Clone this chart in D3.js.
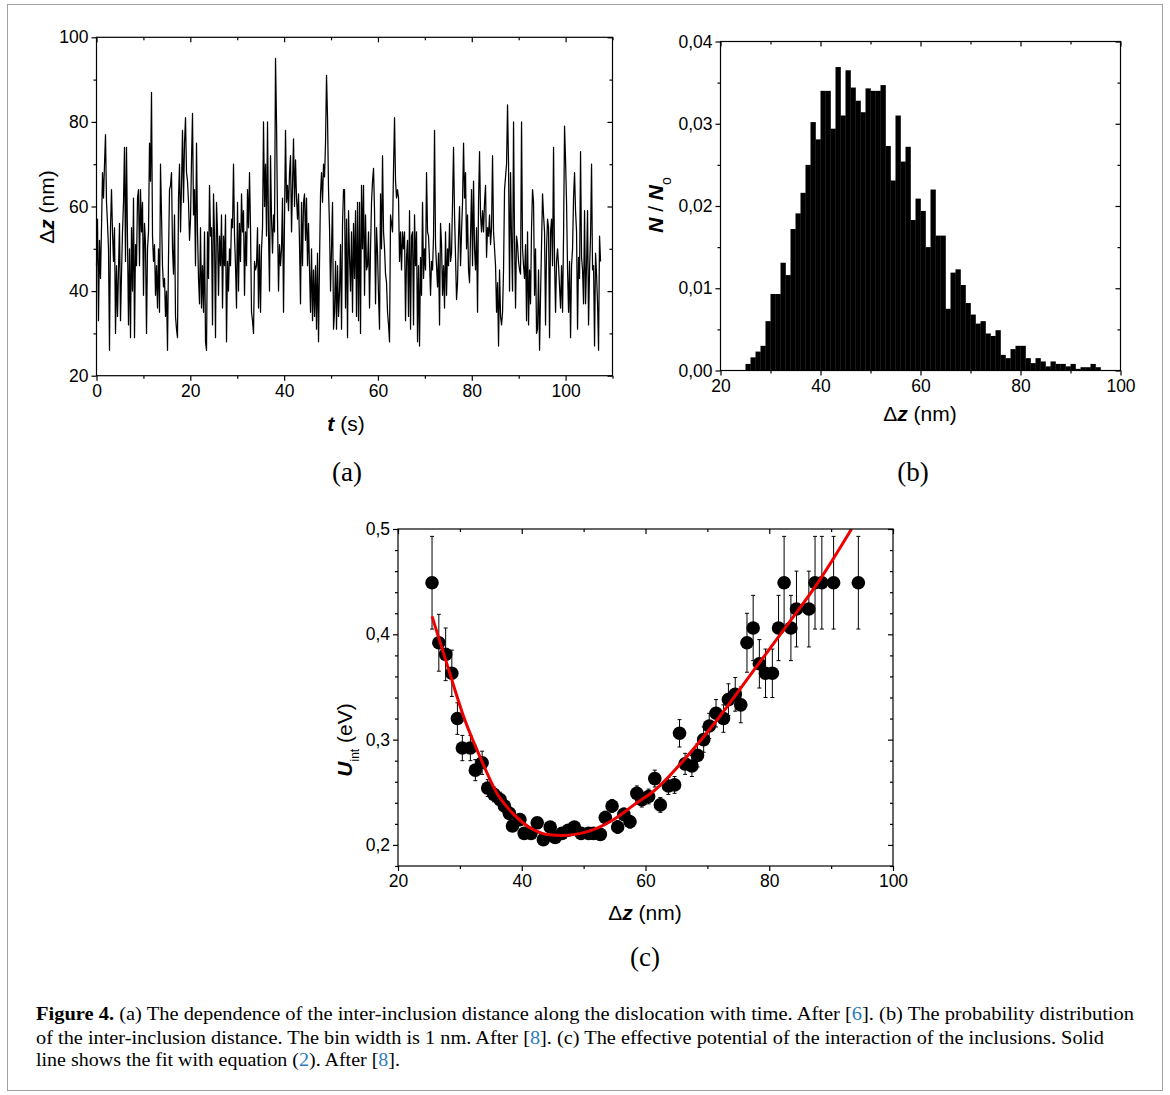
<!DOCTYPE html>
<html>
<head>
<meta charset="utf-8">
<script src="https://cdn.jsdelivr.net/npm/d3@7"></script>
<style>
body { margin: 0; background: #fff; }
svg text { font-family: "Liberation Sans", Arial, sans-serif; fill: #000; }
svg text.serif { font-family: "Liberation Serif", "Times New Roman", serif; }
</style>
</head>
<body>
<script>

// (a) inter-inclusion distance vs time, sampled every dt seconds
const dt = 0.2132;
const dzTrace = [
	46,57,33,52,43,55,68,62,70,77, 61,56,50,26,55,64,54,47,55,30,
	46,34,45,56,33,44,54,61,74,47, 74,52,32,50,29,55,40,62,29,51,
	46,62,64,46,64,54,61,39,56,51, 30,50,54,75,66,87,53,47,51,39,
	46,36,50,35,70,58,46,41,43,34, 40,26,48,64,65,68,50,44,58,34,
	31,29,62,70,54,65,78,61,75,81, 68,66,61,52,57,71,82,58,64,46,
	75,54,43,37,55,36,46,35,54,28, 26,54,43,65,53,55,32,63,53,29,
	61,54,39,53,46,58,36,53,46,58, 28,47,40,50,46,57,55,70,53,46,
	36,61,40,56,47,63,54,59,39,54, 46,64,55,68,55,35,33,30,47,45,
	46,55,36,51,35,50,55,80,60,70, 53,80,54,40,72,57,49,58,54,95,
	80,57,40,51,46,50,62,35,57,78, 61,65,59,68,72,54,65,76,60,71,
	62,57,63,51,37,61,46,61,63,52, 62,46,56,45,35,50,33,45,34,46,
	31,49,28,47,63,68,61,70,67,75, 91,81,64,55,40,50,61,31,35,47,
	31,46,34,40,
	51,31,56,64,64,36,57,29,59,48, 40,54,35,56,43,59,34,61,33,61,
	30,65,50,65,39,58,45,46,54,36, 50,61,66,69,59,37,55,49,39,31,
	63,50,72,54,50,44,42,35,32,28, 58,56,54,69,81,66,62,64,62,47,
	54,45,54,50,54,33,48,52,34,59, 31,53,54,32,58,46,54,28,46,27,
	48,39,61,43,50,45,68,54,53,47, 39,47,45,53,78,51,46,41,49,32,
	56,51,39,46,36,54,39,50,46,56, 47,49,61,74,58,48,38,42,53,60,
	46,54,61,75,62,68,50,58,45,42, 53,64,46,66,50,45,55,35,61,73,
	58,54,59,54,61,65,48,55,53,58, 51,55,72,54,50,46,35,42,27,45,
	34,32,35,45,64,67,70,84,70,40, 68,52,40,80,52,36,53,51,47,45,
	44,80,50,46,43,51,33,54,32,45, 37,55,64,61,39,50,30,31,45,26,
	39,51,63,58,54,32,50,57,55,29, 54,57,46,74,47,35,47,50,46,41,
	36,46,35,53,79,71,61,45,35,47, 29,46,50,62,68,59,54,31,48,43,
	73,48,45,37,59,37,46,59,32,45, 53,70,45,46,27,49,44,37,26,53,
	47
];

// (b) histogram, 1 nm bins starting at 25 nm
const binStart = 25;
const binWidth = 1;
const binFreq = [
	0.0008,0.0016,0.0023,0.0030,0.0060,0.0093,0.0093,0.0131,0.0116,0.0172,
	0.0191,0.0216,0.0250,0.0302,0.0281,0.0340,0.0340,0.0294,0.0369,0.0310,
	0.0365,0.0344,0.0328,0.0314,0.0343,0.0340,0.0340,0.0347,0.0273,0.0231,
	0.0310,0.0254,0.0272,0.0183,0.0209,0.0194,0.0150,0.0220,0.0164,0.0164,
	0.0075,0.0119,0.0123,0.0104,0.0082,0.0068,0.0057,0.0060,0.0045,0.0042,
	0.0049,0.0019,0.0015,0.0026,0.0030,0.0030,0.0015,0.0009,0.0015,0.0011,
	0.0005,0.0011,0.0008,0.0008,0.0005,0.0008,0.0002,0.0004,0.0004,0.0008,
	0.0004
];

// (c) effective potential with error bars
const uDz = [25.5,26.6,27.7,28.7,29.6,30.4,31.7,32.5,33.6,34.5,35.5,36.5,37.2,38.0,38.5,39.7,
	40.4,41.5,42.5,43.5,44.6,45.4,46.5,47.5,48.5,49.6,50.8,51.6,52.7,53.5,54.6,55.5,56.5,57.5,
	58.6,59.4,60.5,61.5,62.4,63.7,64.7,65.5,66.4,67.5,68.4,69.4,70.3,71.4,72.6,73.4,74.5,75.4,
	76.4,77.4,78.4,79.4,80.5,81.5,82.4,83.5,84.4,86.4,87.4,88.5,90.4,94.4];
const uVal = [0.449,0.392,0.381,0.363,0.320,0.292,0.292,0.271,0.278,0.254,0.248,0.243,0.237,0.230,0.218,0.224,
	0.211,0.211,0.221,0.205,0.217,0.207,0.211,0.214,0.217,0.211,0.211,0.211,0.210,0.226,0.237,0.217,0.229,0.222,
	0.249,0.243,0.246,0.263,0.238,0.256,0.257,0.306,0.277,0.275,0.285,0.300,0.313,0.325,0.320,0.338,0.343,0.333,
	0.392,0.406,0.372,0.363,0.363,0.406,0.449,0.406,0.424,0.424,0.449,0.449,0.449,0.449];
const uErr = [0.044,0.027,0.025,0.022,0.015,0.012,0.012,0.010,0.011,0.008,0.007,0.007,0.006,0.006,0.005,0.005,
	0.005,0.005,0.005,0.005,0.005,0.005,0.005,0.005,0.005,0.005,0.005,0.005,0.005,0.006,0.006,0.006,0.006,0.006,
	0.007,0.007,0.007,0.008,0.007,0.008,0.008,0.013,0.010,0.010,0.011,0.012,0.012,0.013,0.013,0.015,0.016,0.017,
	0.028,0.031,0.023,0.023,0.023,0.031,0.044,0.031,0.036,0.036,0.044,0.044,0.044,0.044];

// fit curve
const fitDz = [25.5,28,30.6,33.3,36,38.7,41.4,44.1,46.8,49.5,52.2,54.8,58.6,61.3,66.7,72,77.4,82.8,88.2,93.3];
const fitU  = [0.417,0.370,0.322,0.283,0.249,0.229,0.216,0.210,0.209,0.211,0.216,0.224,0.240,0.251,0.284,0.322,0.365,0.408,0.452,0.500];

const comma = (f) => (d) => d3.format(f)(d).replace(".", ",");

const svg = d3.select("body").append("svg")
	.attr("width", 1170)
	.attr("height", 1095);

svg.append("rect")
	.attr("x", 7.5).attr("y", 4.5)
	.attr("width", 1155).attr("height", 1086)
	.attr("fill", "none").attr("stroke", "#a0a0a0").attr("stroke-width", 1);

// draws the boxed frame with outward ticks left/bottom and inward mirror ticks top/right
function frame(g, x, y, w, h, t) {
	const tickStyle = (sel) => {
		sel.select(".domain").remove();
		sel.selectAll("line").attr("stroke", "#000").attr("stroke-width", 1.2);
		sel.selectAll("text").attr("font-size", 17.5);
	};
	g.append("g").attr("transform", `translate(0,${h})`)
		.call(d3.axisBottom(x).tickValues(t.xMajor).tickSize(5).tickPadding(4).tickFormat(t.fx)).call(tickStyle);
	g.append("g").attr("transform", `translate(0,${h})`)
		.call(d3.axisBottom(x).tickValues(t.xMinor).tickSize(3).tickFormat("")).call(tickStyle);
	g.append("g")
		.call(d3.axisLeft(y).tickValues(t.yMajor).tickSize(5).tickPadding(3).tickFormat(t.fy)).call(tickStyle);
	g.append("g")
		.call(d3.axisLeft(y).tickValues(t.yMinor).tickSize(3).tickFormat("")).call(tickStyle);
	g.append("g")
		.call(d3.axisBottom(x).tickValues(t.xMajor).tickSize(5).tickFormat("")).call(tickStyle);
	g.append("g")
		.call(d3.axisBottom(x).tickValues(t.xMinor).tickSize(3).tickFormat("")).call(tickStyle);
	g.append("g").attr("transform", `translate(${w},0)`)
		.call(d3.axisLeft(y).tickValues(t.yMajor).tickSize(5).tickFormat("")).call(tickStyle);
	g.append("g").attr("transform", `translate(${w},0)`)
		.call(d3.axisLeft(y).tickValues(t.yMinor).tickSize(3).tickFormat("")).call(tickStyle);
	g.append("rect")
		.attr("width", w).attr("height", h)
		.attr("fill", "none").attr("stroke", "#000").attr("stroke-width", 1.2);
}

function title(x, y, rotate, parts, size) {
	const t = svg.append("text")
		.attr("transform", `translate(${x},${y})` + (rotate ? " rotate(-90)" : ""))
		.attr("text-anchor", "middle")
		.attr("font-size", size);
	parts.forEach((p) => {
		const s = t.append("tspan").text(p.t);
		if (p.b) s.attr("font-weight", "bold").attr("font-style", "italic");
		if (p.sub) s.attr("font-size", p.sub).attr("baseline-shift", "sub");
	});
	return t;
}

// ---------- (a) ----------
{
	const box = { left: 96.5, top: 37.3, width: 516, height: 338.4 };
	const x = d3.scaleLinear().domain([0, 110]).range([0, box.width]);
	const y = d3.scaleLinear().domain([20, 100]).range([box.height, 0]);
	const g = svg.append("g").attr("transform", `translate(${box.left},${box.top})`);

	g.append("path")
		.datum(dzTrace)
		.attr("fill", "none")
		.attr("stroke", "#000")
		.attr("stroke-width", 1.25)
		.attr("stroke-linejoin", "round")
		.attr("d", d3.line().x((d, i) => x(i * dt)).y((d) => y(d)));

	frame(g, x, y, box.width, box.height, {
		xMajor: [0, 20, 40, 60, 80, 100], xMinor: [10, 30, 50, 70, 90, 110],
		yMajor: [20, 40, 60, 80, 100], yMinor: [30, 50, 70, 90],
		fx: d3.format("d"), fy: d3.format("d")
	});

	title(54, 207, true, [{ t: "Δ" }, { t: "z", b: true }, { t: " (nm)" }], 21);
	title(346, 431, false, [{ t: "t", b: true }, { t: " (s)" }], 21);
}

// ---------- (b) ----------
{
	const box = { left: 720.5, top: 41.5, width: 400, height: 329 };
	const x = d3.scaleLinear().domain([20, 100]).range([0, box.width]);
	const y = d3.scaleLinear().domain([0, 0.04]).range([box.height, 0]);
	const g = svg.append("g").attr("transform", `translate(${box.left},${box.top})`);

	g.selectAll(".bin")
		.data(binFreq).enter()
		.append("rect")
			.attr("class", "bin")
			.attr("x", (d, i) => x(binStart + i * binWidth))
			.attr("width", x(binStart + binWidth) - x(binStart) + 0.3)
			.attr("y", (d) => y(d))
			.attr("height", (d) => y(0) - y(d))
			.attr("fill", "#000");

	frame(g, x, y, box.width, box.height, {
		xMajor: [20, 40, 60, 80, 100], xMinor: [30, 50, 70, 90],
		yMajor: [0, 0.01, 0.02, 0.03, 0.04], yMinor: [0.005, 0.015, 0.025, 0.035],
		fx: d3.format("d"), fy: comma(".2f")
	});

	title(663, 205, true, [{ t: "N", b: true }, { t: " / " }, { t: "N", b: true }, { t: "o", sub: 14 }], 21);
	title(920, 421, false, [{ t: "Δ" }, { t: "z", b: true }, { t: " (nm)" }], 21);
}

// ---------- (c) ----------
{
	const box = { left: 398, top: 529, width: 495, height: 337 };
	const x = d3.scaleLinear().domain([20, 100]).range([0, box.width]);
	const y = d3.scaleLinear().domain([0.18, 0.5]).range([box.height, 0]);
	const g = svg.append("g").attr("transform", `translate(${box.left},${box.top})`);

	g.append("clipPath").attr("id", "clipC")
		.append("rect").attr("width", box.width).attr("height", box.height);

	const pts = uDz.map((d, i) => ({ dz: d, u: uVal[i], e: uErr[i] }));

	const bars = g.selectAll(".err").data(pts).enter().append("g").attr("class", "err")
		.attr("stroke", "#000").attr("stroke-width", 1);
	bars.append("line")
		.attr("x1", (d) => x(d.dz)).attr("x2", (d) => x(d.dz))
		.attr("y1", (d) => y(d.u - d.e)).attr("y2", (d) => y(d.u + d.e));
	bars.append("line")
		.attr("x1", (d) => x(d.dz) - 2).attr("x2", (d) => x(d.dz) + 2)
		.attr("y1", (d) => y(d.u + d.e)).attr("y2", (d) => y(d.u + d.e));
	bars.append("line")
		.attr("x1", (d) => x(d.dz) - 2).attr("x2", (d) => x(d.dz) + 2)
		.attr("y1", (d) => y(d.u - d.e)).attr("y2", (d) => y(d.u - d.e));

	g.selectAll(".pt").data(pts).enter().append("circle")
		.attr("class", "pt")
		.attr("cx", (d) => x(d.dz))
		.attr("cy", (d) => y(d.u))
		.attr("r", 6.8)
		.attr("fill", "#000");

	g.append("path")
		.datum(fitDz.map((d, i) => [d, fitU[i]]))
		.attr("clip-path", "url(#clipC)")
		.attr("fill", "none")
		.attr("stroke", "#ee0000")
		.attr("stroke-width", 3)
		.attr("d", d3.line().curve(d3.curveMonotoneX).x((d) => x(d[0])).y((d) => y(d[1])));

	frame(g, x, y, box.width, box.height, {
		xMajor: [20, 40, 60, 80, 100], xMinor: [30, 50, 70, 90],
		yMajor: [0.2, 0.3, 0.4, 0.5],
		yMinor: [0.18, 0.22, 0.24, 0.26, 0.28, 0.32, 0.34, 0.36, 0.38, 0.42, 0.44, 0.46, 0.48],
		fx: d3.format("d"), fy: comma(".1f")
	});

	title(352, 740, true, [{ t: "U", b: true }, { t: "int", sub: 12 }, { t: " (eV)" }], 21);
	title(645, 920, false, [{ t: "Δ" }, { t: "z", b: true }, { t: " (nm)" }], 21);
}

// panel letters
[["(a)", 347, 481], ["(b)", 913, 481], ["(c)", 645, 966]].forEach(([s, px, py]) => {
	svg.append("text").text(s)
		.attr("class", "serif")
		.attr("x", px).attr("y", py)
		.attr("text-anchor", "middle")
		.attr("font-size", 27);
});

// caption
const blue = "#2b7bbd";
const captionLines = [
	{ y: 1020, len: 1098, parts: [{ t: "Figure 4.", b: true }, { t: " (a) The dependence of the inter-inclusion distance along the dislocation with time. After [" }, { t: "6", c: blue }, { t: "]. (b) The probability distribution" }] },
	{ y: 1044, len: 1068, parts: [{ t: "of the inter-inclusion distance. The bin width is 1 nm. After [" }, { t: "8", c: blue }, { t: "]. (c) The effective potential of the interaction of the inclusions. Solid" }] },
	{ y: 1066, len: 364, parts: [{ t: "line shows the fit with equation (" }, { t: "2", c: blue }, { t: "). After [" }, { t: "8", c: blue }, { t: "]." }] }
];
captionLines.forEach((line) => {
	const t = svg.append("text")
		.attr("class", "serif")
		.attr("x", 36).attr("y", line.y)
		.attr("font-size", 18.5)
		.attr("textLength", line.len)
		.attr("lengthAdjust", "spacingAndGlyphs");
	line.parts.forEach((p) => {
		const s = t.append("tspan").text(p.t);
		if (p.b) s.attr("font-weight", "bold");
		if (p.c) s.style("fill", p.c);
	});
});

</script>
</body>
</html>
